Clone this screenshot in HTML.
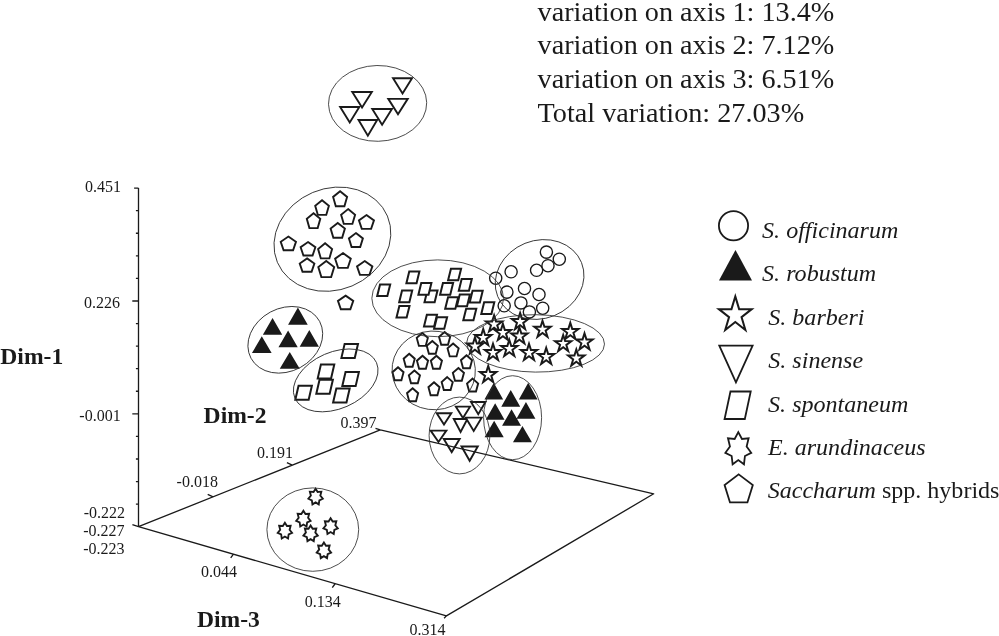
<!DOCTYPE html>
<html lang="en">
<head>
<meta charset="utf-8">
<title>Principal coordinate analysis of Saccharum accessions</title>
<style>
html,body{margin:0;padding:0;background:#fff;}
body{width:999px;height:636px;overflow:hidden;}
svg{display:block;}
text{white-space:pre;}
</style>
</head>
<body>
<svg width="999" height="636" viewBox="0 0 999 636" role="img" aria-label="Three-dimensional principal coordinate plot of Saccharum accessions">
<rect width="999" height="636" fill="#fff"/>
<g id="shapes">
<g fill="#fff" stroke="#1a1a1a" stroke-width="1.9" stroke-miterlimit="10">
<path d="M393.07 78.25L412.03 78.25L402.55 93.38Z"/>
<path d="M352.27 91.95L371.83 91.95L362.05 107.57Z"/>
<path d="M340.17 107.05L359.33 107.05L349.75 122.47Z"/>
<path d="M388.28 98.85L407.72 98.85L398 114.19Z"/>
<path d="M372.27 108.95L391.93 108.95L382.1 124.67Z"/>
<path d="M358.54 119.95L377.16 119.95L367.85 135.63Z"/>
<path d="M471.04 402.05L485.46 402.05L478.25 414.13Z"/>
<path d="M436.69 413.25L451.31 413.25L444 424.6Z"/>
<path d="M453.78 418.95L467.42 418.95L460.6 431.91Z"/>
<path d="M465.75 417.65L481.65 417.65L473.7 430.93Z"/>
<path d="M455.87 406.65L470.03 406.65L462.95 418.07Z"/>
<path d="M430.64 430.65L446.36 430.65L438.5 441.96Z"/>
<path d="M443.75 438.95L459.65 438.95L451.7 452.05Z"/>
<path d="M461.52 446.45L477.78 446.45L469.65 460.78Z"/>
</g>
<path d="M297.9 307.49L307.73 324.75L288.07 324.75Z M272.55 318L282.23 334.85L262.87 334.85Z M288.1 330.4L297.73 347.15L278.47 347.15Z M309.3 329.89L318.93 346.85L299.67 346.85Z M261.8 336.31L271.64 353.05L251.96 353.05Z M289.75 352.01L299.74 368.85L279.76 368.85Z M493.8 382.79L503.13 399.55L484.47 399.55Z M510.75 389.89L520.23 406.85L501.27 406.85Z M528.2 382.79L537.53 399.55L518.87 399.55Z M495.15 403.2L504.53 419.65L485.77 419.65Z M511.55 409.3L521.03 425.85L502.07 425.85Z M525.95 401.99L535.43 418.85L516.47 418.85Z M494.15 420.8L503.74 437.25L484.56 437.25Z M522.45 425.9L531.93 442.35L512.97 442.35Z" fill="#1a1a1a"/>
<g fill="#fff" stroke="#1a1a1a" stroke-width="2" stroke-miterlimit="10">
<path d="M344.64 343.9L357.99 343.9L354.76 357.9L341.41 357.9Z"/>
<path d="M319.54 379.8L332.89 379.8L329.66 393.8L316.31 393.8Z"/>
<path d="M320.94 364.4L334.29 364.4L331.06 378.4L317.71 378.4Z"/>
<path d="M336.34 388.5L349.69 388.5L346.46 402.5L333.11 402.5Z"/>
<path d="M345.54 372.1L358.89 372.1L355.66 386.1L342.31 386.1Z"/>
<path d="M298.54 385.8L311.89 385.8L308.66 399.8L295.31 399.8Z"/>
<path d="M409.25 271.6L419.41 271.6L416.55 283.2L406.39 283.2Z"/>
<path d="M450.95 268.7L461.11 268.7L458.25 280.3L448.09 280.3Z"/>
<path d="M380.05 284.4L390.21 284.4L387.35 296L377.19 296Z"/>
<path d="M427.35 290.6L437.51 290.6L434.65 302.2L424.49 302.2Z"/>
<path d="M421.25 283.1L431.41 283.1L428.55 294.7L418.39 294.7Z"/>
<path d="M442.95 283.1L453.11 283.1L450.25 294.7L440.09 294.7Z"/>
<path d="M461.65 279.1L471.81 279.1L468.95 290.7L458.79 290.7Z"/>
<path d="M402.05 290.6L412.21 290.6L409.35 302.2L399.19 302.2Z"/>
<path d="M472.55 290.8L482.71 290.8L479.85 302.4L469.69 302.4Z"/>
<path d="M448.05 297.2L458.21 297.2L455.35 308.8L445.19 308.8Z"/>
<path d="M459.75 294.6L469.91 294.6L467.05 306.2L456.89 306.2Z"/>
<path d="M399.35 305.9L409.51 305.9L406.65 317.5L396.49 317.5Z"/>
<path d="M484.15 302.3L494.31 302.3L491.45 313.9L481.29 313.9Z"/>
<path d="M466.15 308.7L476.31 308.7L473.45 320.3L463.29 320.3Z"/>
<path d="M426.85 314.8L437.01 314.8L434.15 326.4L423.99 326.4Z"/>
<path d="M436.95 317.2L447.11 317.2L444.25 328.8L434.09 328.8Z"/>
</g>
<g fill="#fff" stroke="#1a1a1a" stroke-width="1.9" stroke-miterlimit="10">
<path d="M340.1 191.3L347.1 196.95L344.4 206.2L335.8 206.2L333.1 196.95Z"/>
<path d="M313.55 213.21L320.3 218.85L317.69 228.1L309.41 228.1L306.8 218.85Z"/>
<path d="M322.05 200.3L328.9 205.84L326.25 214.9L317.85 214.9L315.2 205.84Z"/>
<path d="M348.1 209.1L355.1 214.72L352.4 223.9L343.8 223.9L341.1 214.72Z"/>
<path d="M366.45 215.06L373.97 220.35L371.11 228.9L361.79 228.9L358.93 220.35Z"/>
<path d="M337.75 222.89L344.89 228.52L342.14 237.7L333.36 237.7L330.61 228.52Z"/>
<path d="M355.9 233.08L362.89 238.38L360.21 247L351.59 247L348.91 238.38Z"/>
<path d="M288.35 236.55L295.97 241.78L293.07 250.2L283.63 250.2L280.73 241.78Z"/>
<path d="M308 242.05L315.37 247.2L312.57 255.5L303.43 255.5L300.63 247.2Z"/>
<path d="M325.1 243.21L332.1 248.97L329.39 258.4L320.81 258.4L318.1 248.97Z"/>
<path d="M342.95 253.06L350.78 258.73L347.79 267.9L338.11 267.9L335.12 258.73Z"/>
<path d="M307.05 258.36L314.37 263.5L311.58 271.8L302.52 271.8L299.73 263.5Z"/>
<path d="M326.25 260.98L334.19 267.12L331.14 277.1L321.36 277.1L318.31 267.12Z"/>
<path d="M364.7 261.05L372.37 266.36L369.45 274.9L359.95 274.9L357.03 266.36Z"/>
<path d="M345.6 295.65L353.26 300.88L350.35 309.3L340.85 309.3L337.94 300.88Z"/>
<path d="M422.3 333.03L427.86 337.88L425.69 345.9L418.91 345.9L416.74 337.88Z"/>
<path d="M444.6 331.93L450.16 336.78L447.99 344.8L441.21 344.8L439.04 336.78Z"/>
<path d="M432.3 340.93L437.86 345.78L435.69 353.8L428.91 353.8L426.74 345.78Z"/>
<path d="M453.1 343.53L458.66 348.38L456.49 356.4L449.71 356.4L447.54 348.38Z"/>
<path d="M409.2 353.83L414.76 358.68L412.59 366.7L405.81 366.7L403.64 358.68Z"/>
<path d="M422.5 355.83L428.06 360.68L425.89 368.7L419.11 368.7L416.94 360.68Z"/>
<path d="M436.4 355.83L441.96 360.68L439.79 368.7L433.01 368.7L430.84 360.68Z"/>
<path d="M466.5 355.33L472.06 360.18L469.89 368.2L463.11 368.2L460.94 360.18Z"/>
<path d="M398 367.33L403.56 372.18L401.39 380.2L394.61 380.2L392.44 372.18Z"/>
<path d="M414.4 370.43L419.96 375.28L417.79 383.3L411.01 383.3L408.84 375.28Z"/>
<path d="M458.4 367.93L463.96 372.78L461.79 380.8L455.01 380.8L452.84 372.78Z"/>
<path d="M447.2 377.13L452.76 381.98L450.59 390L443.81 390L441.64 381.98Z"/>
<path d="M434 382.33L439.56 387.18L437.39 395.2L430.61 395.2L428.44 387.18Z"/>
<path d="M472.6 378.63L478.16 383.48L475.99 391.5L469.21 391.5L467.04 383.48Z"/>
<path d="M412.6 388.33L418.16 393.18L415.99 401.2L409.21 401.2L407.04 393.18Z"/>
</g>
<g fill="#fff" stroke="#1a1a1a" stroke-width="1.35">
<circle cx="546.4" cy="252.1" r="6.1"/>
<circle cx="559.3" cy="259.2" r="6.1"/>
<circle cx="536.6" cy="270.3" r="6.1"/>
<circle cx="548" cy="265.7" r="6.1"/>
<circle cx="511.1" cy="271.8" r="6.1"/>
<circle cx="495.7" cy="278.2" r="6.1"/>
<circle cx="524.5" cy="288.5" r="6.1"/>
<circle cx="506.9" cy="292.1" r="6.1"/>
<circle cx="539" cy="294.5" r="6.1"/>
<circle cx="504.2" cy="305.8" r="6.1"/>
<circle cx="520.9" cy="302.9" r="6.1"/>
<circle cx="542.7" cy="308.2" r="6.1"/>
<circle cx="529.4" cy="311.9" r="6.1"/>
</g>
<g fill="#fff" stroke="#1a1a1a" stroke-width="1.95" stroke-miterlimit="10">
<path d="M520.1 312.9L522.01 319.01L528.32 319.01L523.22 322.87L525.14 329.03L520.1 325.23L515.06 329.03L516.98 322.87L511.88 319.01L518.19 319.01Z"/>
<path d="M494.1 315.3L496.01 321.41L502.32 321.41L497.22 325.27L499.14 331.43L494.1 327.63L489.06 331.43L490.98 325.27L485.88 321.41L492.19 321.41Z"/>
<path d="M542.5 320.7L544.41 326.81L550.72 326.81L545.62 330.67L547.54 336.83L542.5 333.03L537.46 336.83L539.38 330.67L534.28 326.81L540.59 326.81Z"/>
<path d="M570.3 322.8L572.21 328.91L578.52 328.91L573.42 332.77L575.34 338.93L570.3 335.13L565.26 338.93L567.18 332.77L562.08 328.91L568.39 328.91Z"/>
<path d="M502.9 323.8L504.81 329.91L511.12 329.91L506.02 333.77L507.94 339.93L502.9 336.13L497.86 339.93L499.78 333.77L494.68 329.91L500.99 329.91Z"/>
<path d="M519.4 327.3L521.31 333.41L527.62 333.41L522.52 337.27L524.44 343.43L519.4 339.63L514.36 343.43L516.28 337.27L511.18 333.41L517.49 333.41Z"/>
<path d="M483.2 328.9L485.11 335.01L491.42 335.01L486.32 338.87L488.24 345.03L483.2 341.23L478.16 345.03L480.08 338.87L474.98 335.01L481.29 335.01Z"/>
<path d="M584.5 333.3L586.41 339.41L592.72 339.41L587.62 343.27L589.54 349.43L584.5 345.63L579.46 349.43L581.38 343.27L576.28 339.41L582.59 339.41Z"/>
<path d="M563.2 335L565.11 341.11L571.42 341.11L566.32 344.97L568.24 351.13L563.2 347.33L558.16 351.13L560.08 344.97L554.98 341.11L561.29 341.11Z"/>
<path d="M474.9 337.4L476.81 343.51L483.12 343.51L478.02 347.37L479.94 353.53L474.9 349.73L469.86 353.53L471.78 347.37L466.68 343.51L472.99 343.51Z"/>
<path d="M509.3 339.8L511.21 345.91L517.52 345.91L512.42 349.77L514.34 355.93L509.3 352.13L504.26 355.93L506.18 349.77L501.08 345.91L507.39 345.91Z"/>
<path d="M493 343.8L494.91 349.91L501.22 349.91L496.12 353.77L498.04 359.93L493 356.13L487.96 359.93L489.88 353.77L484.78 349.91L491.09 349.91Z"/>
<path d="M529 343.8L530.91 349.91L537.22 349.91L532.12 353.77L534.04 359.93L529 356.13L523.96 359.93L525.88 353.77L520.78 349.91L527.09 349.91Z"/>
<path d="M546.2 347.8L548.11 353.91L554.42 353.91L549.32 357.77L551.24 363.93L546.2 360.13L541.16 363.93L543.08 357.77L537.98 353.91L544.29 353.91Z"/>
<path d="M576.3 349.4L578.21 355.51L584.52 355.51L579.42 359.37L581.34 365.53L576.3 361.73L571.26 365.53L573.18 359.37L568.08 355.51L574.39 355.51Z"/>
<path d="M488.2 365.9L490.11 372.01L496.42 372.01L491.32 375.87L493.24 382.03L488.2 378.23L483.16 382.03L485.08 375.87L479.98 372.01L486.29 372.01Z"/>
</g>
<g fill="#fff" stroke="#1a1a1a" stroke-width="1.85" stroke-miterlimit="10">
<path d="M315.6 488.65L317.66 491.93L321.34 491.69L320.31 495.65L322.8 498.77L319.35 500.37L318.75 504.36L315.6 502.4L312.45 504.36L311.85 500.37L308.4 498.77L310.89 495.65L309.86 491.69L313.54 491.93Z"/>
<path d="M303.4 510.75L305.46 514.03L309.14 513.79L308.11 517.75L310.6 520.87L307.15 522.47L306.55 526.46L303.4 524.5L300.25 526.46L299.65 522.47L296.2 520.87L298.69 517.75L297.66 513.79L301.34 514.03Z"/>
<path d="M284.9 522.75L286.96 526.03L290.64 525.79L289.61 529.75L292.1 532.87L288.65 534.47L288.05 538.46L284.9 536.5L281.75 538.46L281.15 534.47L277.7 532.87L280.19 529.75L279.16 525.79L282.84 526.03Z"/>
<path d="M310.6 525.45L312.66 528.73L316.34 528.49L315.31 532.45L317.8 535.57L314.35 537.17L313.75 541.16L310.6 539.2L307.45 541.16L306.85 537.17L303.4 535.57L305.89 532.45L304.86 528.49L308.54 528.73Z"/>
<path d="M330.6 518.25L332.66 521.53L336.34 521.29L335.31 525.25L337.8 528.37L334.35 529.97L333.75 533.96L330.6 532L327.45 533.96L326.85 529.97L323.4 528.37L325.89 525.25L324.86 521.29L328.54 521.53Z"/>
<path d="M323.9 542.45L325.96 545.73L329.64 545.49L328.61 549.45L331.1 552.57L327.65 554.17L327.05 558.16L323.9 556.2L320.75 558.16L320.15 554.17L316.7 552.57L319.19 549.45L318.16 545.49L321.84 545.73Z"/>
</g>
</g>
<path d="M138.5 526.7 V188.1 M138.5 526.7 L380.3 429.8 L653.7 493.8 L446.4 615.9 L138.5 526.7 M138.5 188.1 h-4.4 M138.5 210.67 h-2.6 M138.5 233.25 h-2.6 M138.5 255.82 h-2.6 M138.5 278.39 h-2.6 M138.5 300.97 h-6.2 M138.5 323.54 h-2.6 M138.5 346.11 h-2.6 M138.5 368.69 h-2.6 M138.5 391.26 h-2.6 M138.5 413.83 h-6.2 M138.5 436.41 h-2.6 M138.5 458.98 h-2.6 M138.5 481.55 h-2.6 M138.5 504.13 h-2.6 M138.5 526.7 L132.4 524.7 M380.3 429.8 L375.5 428.3 M292.3 465.1 l-5.4 -2.4 M213.1 496.8 l-5.4 -2.4 M233.3 554.3 l-2.6 3.6 M334.9 584 l-2.6 3.6 M446.4 615.9 l-2.3 2.4" fill="none" stroke="#1a1a1a" stroke-width="1.32" stroke-linejoin="round"/>
<g fill="none" stroke="#2e2e2e" stroke-width="0.85">
<ellipse cx="377.6" cy="103.4" rx="49.1" ry="37.9" transform="rotate(-1 377.6 103.4)"/>
<ellipse cx="332.4" cy="239.2" rx="59.7" ry="50.7" transform="rotate(-22.8 332.4 239.2)"/>
<ellipse cx="285.3" cy="339.8" rx="38.95" ry="31.5" transform="rotate(-28.3 285.3 339.8)"/>
<ellipse cx="335.7" cy="380.4" rx="44.5" ry="28.3" transform="rotate(-23.5 335.7 380.4)"/>
<ellipse cx="437.7" cy="298.3" rx="65.85" ry="38.4"/>
<ellipse cx="539.6" cy="279.5" rx="45.2" ry="39" transform="rotate(-22 539.6 279.5)"/>
<ellipse cx="535.6" cy="343.4" rx="68.9" ry="28.7" transform="rotate(0.6 535.6 343.4)"/>
<ellipse cx="433.7" cy="370.4" rx="41.7" ry="39.3" transform="rotate(8 433.7 370.4)"/>
<ellipse cx="459.5" cy="435.5" rx="30.4" ry="38.4"/>
<ellipse cx="512.6" cy="417.7" rx="29" ry="42"/>
<ellipse cx="312.8" cy="529.6" rx="45.9" ry="41.7"/>
</g>
<circle cx="733.5" cy="225.8" r="14.6" fill="none" stroke="#1a1a1a" stroke-width="1.8"/>
<path d="M735.5 249.88L752.03 280.6L718.97 280.6Z" fill="#1a1a1a"/>
<path d="M735.3 296.4L739.13 309.13L751.72 309.13L741.53 317.12L745.39 329.92L735.3 322.01L725.21 329.92L729.07 317.12L718.88 309.13L731.47 309.13Z" fill="none" stroke="#1a1a1a" stroke-width="2" stroke-miterlimit="10"/>
<path d="M719.29 345.7L752.61 345.7L735.95 382.31Z" fill="none" stroke="#1a1a1a" stroke-width="1.8" stroke-miterlimit="10"/>
<path d="M730.47 391.5L750.73 391.5L744.83 419L724.57 419Z" fill="none" stroke="#1a1a1a" stroke-width="1.8" stroke-miterlimit="10"/>
<path d="M738.3 432.09L741.95 438.97L748.61 438.32L746.64 446.49L751.24 452.84L744.94 456L743.97 464.29L738.3 460.09L732.63 464.29L731.66 456L725.36 452.84L729.96 446.49L727.99 438.32L734.65 438.97Z" fill="none" stroke="#1a1a1a" stroke-width="1.8" stroke-miterlimit="10"/>
<path d="M738.7 474.38L752.82 485.09L747.41 502.47L729.99 502.47L724.58 485.09Z" fill="none" stroke="#1a1a1a" stroke-width="1.8" stroke-miterlimit="10"/>
<g font-family="'Liberation Serif', 'Times New Roman', serif" fill="#1a1a1a">
<text x="537.6" y="20.6" font-size="28.2">variation on axis 1: 13.4%</text>
<text x="537.6" y="54.32" font-size="28.2">variation on axis 2: 7.12%</text>
<text x="537.6" y="88.04" font-size="28.2">variation on axis 3: 6.51%</text>
<text x="537.6" y="121.76" font-size="28.2">Total variation: 27.03%</text>
<text x="120.9" y="191.9" font-size="16" text-anchor="end">0.451</text>
<text x="119.9" y="307.6" font-size="16" text-anchor="end">0.226</text>
<text x="120.7" y="421.3" font-size="16" text-anchor="end">-0.001</text>
<text x="125.1" y="517.6" font-size="16" text-anchor="end">-0.222</text>
<text x="124.5" y="535.7" font-size="16" text-anchor="end">-0.227</text>
<text x="124.5" y="553.8" font-size="16" text-anchor="end">-0.223</text>
<text x="376.5" y="428.4" font-size="16" text-anchor="end">0.397</text>
<text x="292.9" y="458.1" font-size="16" text-anchor="end">0.191</text>
<text x="217.9" y="486.6" font-size="16" text-anchor="end">-0.018</text>
<text x="237.1" y="576.9" font-size="16" text-anchor="end">0.044</text>
<text x="340.8" y="607" font-size="16" text-anchor="end">0.134</text>
<text x="445.5" y="634.9" font-size="16" text-anchor="end">0.314</text>
<text x="0.3" y="363.8" font-size="23.6" font-weight="bold">Dim-1</text>
<text x="203.6" y="423.3" font-size="23.6" font-weight="bold">Dim-2</text>
<text x="197" y="626.6" font-size="23.6" font-weight="bold">Dim-3</text>
<text x="762.1" y="237.8" font-size="24.05" font-style="italic">S. officinarum</text>
<text x="762.1" y="281.2" font-size="24.05" font-style="italic">S. robustum</text>
<text x="768.3" y="324.6" font-size="24.05" font-style="italic">S. barberi</text>
<text x="768.3" y="368.2" font-size="24.05" font-style="italic">S. sinense</text>
<text x="768.1" y="411.7" font-size="24.05" font-style="italic">S. spontaneum</text>
<text x="768" y="455.2" font-size="24.05" font-style="italic">E. arundinaceus</text>
<text x="767.7" y="498.0" font-size="24.05"><tspan font-style="italic">Saccharum</tspan> spp. hybrids</text>
</g>
</svg>
</body>
</html>
